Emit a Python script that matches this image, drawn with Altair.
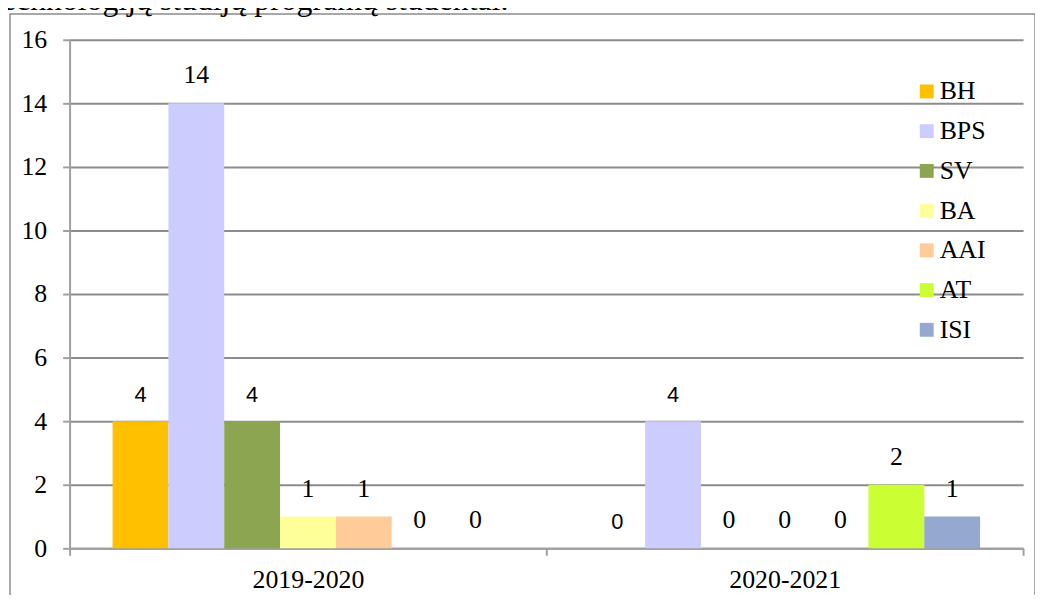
import altair as alt
import pandas as pd

periods = ["2019-2020", "2020-2021"]
series = ["BH", "BPS", "SV", "BA", "AAI", "AT", "ISI"]
values_2019 = [4, 14, 4, 1, 1, 0, 0]
values_2020 = [0, 4, 0, 0, 0, 2, 1]
colors = ["#FFC000", "#CCCCFF", "#8BA550", "#FFFF99", "#FFCC99", "#CCFF33", "#94A8D0"]
y_ticks = [0, 2, 4, 6, 8, 10, 12, 14, 16]
title_text = "technologijų studijų programų studentai."

# labels that the original draws in a sans-serif face
sans_labels = [("2019-2020", "BH"), ("2019-2020", "SV"), ("2020-2021", "BH"), ("2020-2021", "BPS")]

rows = []
for p, vals in zip(periods, [values_2019, values_2020]):
    for s, v in zip(series, vals):
        rows.append({"period": p, "series": s, "value": v,
                     "sans": (p, s) in sans_labels})
df = pd.DataFrame(rows)

SERIF = "Liberation Serif"
SANS = "Liberation Sans"

x_enc = alt.X("period:N", sort=periods,
              scale=alt.Scale(paddingInner=0, paddingOuter=0),
              axis=alt.Axis(title=None, labelAngle=0, tickBand="extent",
                            tickSize=7, labelPadding=11, grid=False))
xo_enc = alt.XOffset("series:N", sort=series,
                     scale=alt.Scale(paddingInner=0, paddingOuter=0.77))
y_enc = alt.Y("value:Q", scale=alt.Scale(domain=[0, 16]),
              axis=alt.Axis(title=None, values=y_ticks, tickSize=7,
                            labelPadding=16, grid=True))

base = alt.Chart(df)

bars = base.mark_bar().encode(
    x=x_enc, xOffset=xo_enc, y=y_enc,
    color=alt.Color("series:N", sort=series,
                    scale=alt.Scale(domain=series, range=colors),
                    legend=alt.Legend(title=None, orient="none", legendX=850, legendY=39,
                                      symbolType="square", symbolSize=196,
                                      symbolStrokeWidth=0, labelFont=SERIF,
                                      labelFontSize=26, labelColor="black",
                                      rowPadding=14, labelOffset=0, padding=0)),
)

labels_serif = base.transform_filter("!datum.sans").mark_text(
    dy=-28, baseline="middle", font=SERIF, fontSize=26, color="black"
).encode(x=x_enc, xOffset=xo_enc, y=y_enc, text="value:Q")

labels_sans = base.transform_filter("datum.sans").mark_text(
    dy=-26, baseline="middle", font=SANS, fontSize=22, color="black"
).encode(x=x_enc, xOffset=xo_enc, y=y_enc, text="value:Q")

one = pd.DataFrame({"a": [0]})
border = alt.Chart(one).mark_rect(fillOpacity=0, stroke="#8c8c8c", strokeWidth=1.5).encode(
    x=alt.value(-60), x2=alt.value(972), y=alt.value(-26), y2=alt.value(600))

title = alt.Chart(one).mark_text(align="left", baseline="alphabetic", font=SERIF,
                                 fontSize=32, color="black").encode(
    x=alt.value(-77), y=alt.value(-30), text=alt.value(title_text))

chart = alt.layer(border, title, bars, labels_serif, labels_sans).properties(
    width=960, height=512,
    autosize=alt.AutoSizeParams(type="none"),
    padding={"left": 62, "top": 30, "right": 12, "bottom": 45},
).configure_view(strokeWidth=0).configure_axis(
    domainColor="#a0a0a0", domainWidth=2, tickColor="#a0a0a0", tickWidth=2,
    gridColor="#8c8c8c", gridWidth=2, labelFont=SERIF, labelFontSize=26,
    labelColor="black"
)

chart.save("out.html", embed_options={"renderer": "svg", "actions": False})
